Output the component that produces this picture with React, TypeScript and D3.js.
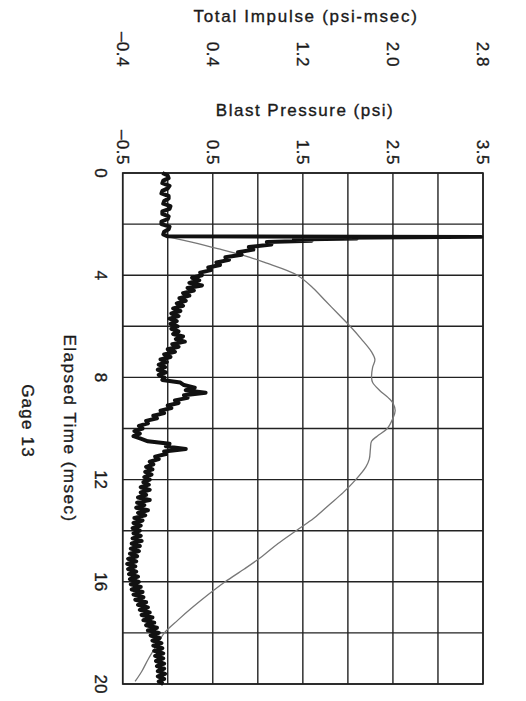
import React from "react";
import * as d3 from "d3";

const pressureTicks = [-0.5, 0.5, 1.5, 2.5, 3.5];
const pressureTickLabels = ["\u20130.5", "0.5", "1.5", "2.5", "3.5"];
const impulseTicks = [-0.4, 0.4, 1.2, 2.0, 2.8];
const impulseTickLabels = ["\u20130.4", "0.4", "1.2", "2.0", "2.8"];
const timeTicks = [0, 4, 8, 12, 16, 20];
const pressureGrid = [-0.5, 0, 0.5, 1, 1.5, 2, 2.5, 3, 3.5];
const timeGrid = [0, 2, 4, 6, 8, 10, 12, 14, 16, 18, 20];

// Blast pressure trace (time msec, psi)
const pressure: [number, number][] = [
  [0.0, -0.06], [0.1, 0.0], [0.2, 0.01], [0.3, -0.05], [0.4, -0.06], [0.5, 0.02], [0.6, 0.0],
  [0.7, -0.06], [0.8, -0.07], [0.9, 0.01], [1.0, 0.01], [1.1, -0.04], [1.2, -0.05], [1.3, 0.03],
  [1.4, 0.02], [1.5, -0.06], [1.6, -0.06], [1.7, 0.01], [1.8, 0.0], [1.9, -0.07], [2.0, -0.07],
  [2.1, 0.02], [2.2, 0.01], [2.3, -0.04], [2.4, -0.05], [2.48, 0.0],
  [2.5, 3.48], [2.53, 1.9], [2.56, 2.1], [2.6, 1.4], [2.65, 1.6], [2.7, 1.1], [2.8, 1.15],
  [2.9, 0.9], [3.0, 0.95], [3.1, 0.78], [3.2, 0.82], [3.3, 0.64], [3.4, 0.68], [3.5, 0.54],
  [3.6, 0.58], [3.7, 0.45], [3.8, 0.48], [3.9, 0.36], [4.0, 0.38], [4.1, 0.27], [4.2, 0.35],
  [4.3, 0.24], [4.4, 0.38], [4.5, 0.22], [4.6, 0.29], [4.7, 0.17], [4.8, 0.24], [4.9, 0.13],
  [5.0, 0.2], [5.1, 0.1], [5.2, 0.17], [5.3, 0.06], [5.4, 0.14], [5.5, 0.04], [5.6, 0.12],
  [5.7, 0.02], [5.8, 0.1], [5.9, 0.03], [6.0, 0.11], [6.1, 0.04], [6.2, 0.12], [6.3, 0.06],
  [6.4, 0.17], [6.5, 0.09], [6.6, 0.19], [6.7, 0.05], [6.8, 0.12], [6.9, 0.0], [7.0, 0.08],
  [7.1, -0.04], [7.2, 0.03], [7.3, -0.08], [7.4, -0.01], [7.5, -0.1], [7.6, -0.03], [7.7, -0.11],
  [7.8, -0.02], [7.9, -0.1], [8.0, -0.04], [8.1, -0.06], [8.2, 0.14], [8.3, 0.18], [8.4, 0.3],
  [8.5, 0.2], [8.6, 0.42], [8.7, 0.18], [8.8, 0.22], [8.9, 0.08], [9.0, 0.12], [9.1, 0.0],
  [9.2, 0.04], [9.3, -0.08], [9.4, -0.04], [9.5, -0.16], [9.6, -0.12], [9.7, -0.24], [9.8, -0.22],
  [9.9, -0.32], [10.0, -0.28], [10.1, -0.37], [10.2, -0.31], [10.3, -0.38], [10.4, -0.3],
  [10.5, -0.22], [10.6, 0.02], [10.7, -0.02], [10.8, 0.2], [10.9, -0.04], [11.0, -0.02],
  [11.1, -0.14], [11.2, -0.1], [11.3, -0.2], [11.4, -0.16], [11.5, -0.24], [11.6, -0.17],
  [11.7, -0.25], [11.8, -0.18], [11.9, -0.26], [12.0, -0.2], [12.1, -0.27], [12.2, -0.21],
  [12.3, -0.3], [12.4, -0.2], [12.5, -0.3], [12.6, -0.24], [12.7, -0.33], [12.8, -0.2],
  [12.9, -0.34], [13.0, -0.26], [13.1, -0.35], [13.2, -0.22], [13.3, -0.33], [13.4, -0.25],
  [13.5, -0.37], [13.6, -0.28], [13.7, -0.38], [13.8, -0.3], [13.9, -0.39], [14.0, -0.31],
  [14.1, -0.38], [14.2, -0.3], [14.3, -0.39], [14.4, -0.29], [14.5, -0.4], [14.6, -0.31],
  [14.7, -0.41], [14.8, -0.32], [14.9, -0.42], [15.0, -0.34], [15.1, -0.44], [15.2, -0.35],
  [15.3, -0.45], [15.4, -0.36], [15.5, -0.44], [15.6, -0.35], [15.7, -0.43], [15.8, -0.33],
  [15.9, -0.42], [16.0, -0.32], [16.1, -0.41], [16.2, -0.3], [16.3, -0.4], [16.4, -0.28],
  [16.5, -0.38], [16.6, -0.27], [16.7, -0.36], [16.8, -0.24], [16.9, -0.33], [17.0, -0.22],
  [17.1, -0.31], [17.2, -0.2], [17.3, -0.29], [17.4, -0.17], [17.5, -0.27], [17.6, -0.15],
  [17.7, -0.24], [17.8, -0.12], [17.9, -0.22], [18.0, -0.1], [18.1, -0.19], [18.2, -0.09],
  [18.3, -0.17], [18.4, -0.07], [18.5, -0.16], [18.6, -0.06], [18.7, -0.15], [18.8, -0.05],
  [18.9, -0.14], [19.0, -0.05], [19.1, -0.13], [19.2, -0.04], [19.3, -0.12], [19.4, -0.04],
  [19.5, -0.11], [19.6, -0.03], [19.7, -0.11], [19.8, -0.04], [19.9, -0.1], [20.0, -0.05],
];

// Total impulse (time msec, psi-msec)
const impulse: [number, number][] = [
  [2.5, 0.0], [2.75, 0.26], [3.0, 0.48], [3.3, 0.73], [3.5, 0.86], [4.0, 1.15], [4.5, 1.29],
  [5.0, 1.4], [5.5, 1.51], [6.0, 1.62], [6.5, 1.72], [7.0, 1.81], [7.3, 1.84], [7.6, 1.82],
  [8.0, 1.81], [8.2, 1.82], [8.5, 1.88], [8.8, 1.96], [9.0, 2.0], [9.3, 2.02], [9.6, 2.0],
  [10.0, 1.95], [10.3, 1.86], [10.5, 1.81], [10.8, 1.8], [11.2, 1.79], [11.5, 1.76],
  [12.0, 1.67], [12.5, 1.56], [13.0, 1.43], [13.5, 1.3], [14.0, 1.14], [14.5, 0.98],
  [15.0, 0.84], [15.5, 0.68], [16.0, 0.51], [16.5, 0.36], [17.0, 0.22], [17.5, 0.09],
  [18.0, -0.03], [18.5, -0.1], [19.0, -0.17], [19.5, -0.23], [19.9, -0.29],
];

const W = 526;
const H = 701;
const L = 122.7, R = 483, T = 173, B = 684;
const FONT = "'Liberation Sans', Arial, Helvetica, sans-serif";
const INK = "#1a1a1a";

export default function App() {
  const x = d3.scaleLinear().domain([-0.5, 3.5]).range([L, R]);
  const xi = d3.scaleLinear().domain([-0.4, 2.8]).range([L, R]);
  const y = d3.scaleLinear().domain([0, 20]).range([T, B]);

  const pLine = d3.line<[number, number]>().x((d) => x(d[1])).y((d) => y(d[0]));
  const iLine = d3
    .line<[number, number]>()
    .x((d) => xi(d[1]))
    .y((d) => y(d[0]))
    .curve(d3.curveCatmullRom.alpha(0.5));

  const textProps = { fill: INK, stroke: INK, strokeWidth: 0.35, fontSize: 17 };

  return (
    <svg
      width={W}
      height={H}
      style={{ position: "absolute", left: 0, top: 0, background: "#fff" }}
      fontFamily={FONT}
    >
      <rect x={0} y={0} width={W} height={H} fill="#fff" />
      {/* grid */}
      {pressureGrid.map((v) => (
        <line key={"gx" + v} x1={x(v)} x2={x(v)} y1={T} y2={B} stroke="#222" strokeWidth={1.4} />
      ))}
      {timeGrid.map((v) => (
        <line key={"gy" + v} x1={L} x2={R} y1={y(v)} y2={y(v)} stroke="#222" strokeWidth={1.4} />
      ))}
      <rect x={L} y={T} width={R - L} height={B - T} fill="none" stroke="#222" strokeWidth={1.6} />

      {/* impulse */}
      <path d={iLine(impulse) || ""} fill="none" stroke="#777" strokeWidth={1.3} />
      {/* pressure */}
      <path
        d={pLine(pressure) || ""}
        fill="none"
        stroke="#111"
        strokeWidth={4}
        strokeLinejoin="round"
      />

      {/* titles */}
      <text x={306} y={21.5} textAnchor="middle" letterSpacing={1.7} {...textProps}>
        Total Impulse (psi-msec)
      </text>
      <text x={305} y={116} textAnchor="middle" letterSpacing={1.5} {...textProps}>
        Blast Pressure (psi)
      </text>

      {impulseTicks.map((v, i) => (
        <text
          key={"it" + i}
          transform={`translate(${xi(v)},67) rotate(90)`}
          textAnchor="end"
          dy="0.36em"
          letterSpacing={0.5}
          {...textProps}
        >
          {impulseTickLabels[i]}
        </text>
      ))}
      {pressureTicks.map((v, i) => (
        <text
          key={"pt" + i}
          transform={`translate(${x(v)},165) rotate(90)`}
          textAnchor="end"
          dy="0.36em"
          letterSpacing={0.5}
          {...textProps}
        >
          {pressureTickLabels[i]}
        </text>
      ))}
      {timeTicks.map((v) => (
        <text
          key={"tt" + v}
          transform={`translate(101,${y(v)}) rotate(90)`}
          textAnchor="middle"
          dy="0.36em"
          {...textProps}
        >
          {v}
        </text>
      ))}
      <text
        transform={`translate(70,${(T + B) / 2}) rotate(90)`}
        textAnchor="middle"
        dy="0.36em"
        letterSpacing={1.5}
        {...textProps}
      >
        Elapsed Time (msec)
      </text>
      <text
        transform={`translate(28,421) rotate(90)`}
        textAnchor="middle"
        dy="0.36em"
        letterSpacing={1.2}
        {...textProps}
      >
        Gage 13
      </text>
    </svg>
  );
}
